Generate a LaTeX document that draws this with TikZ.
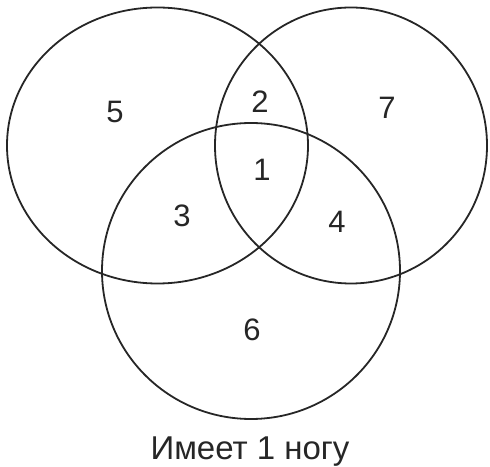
\documentclass[tikz,border=0pt]{standalone}
\usepackage{fontspec}
\setmainfont{Liberation Sans}

\begin{document}
\begin{tikzpicture}[x=1pt,y=1pt,
        ring/.style={line width=1.8pt,draw=black!85},
        reglab/.style={font=\fontsize{31}{31}\selectfont,text=black!85},
        caplab/.style={font=\fontsize{33}{33}\selectfont,text=black!85}]

      \useasboundingbox (0,0) rectangle (490,466);

      \draw[ring] (157.5,320.5) ellipse (150.5 and 138);   % left
      \draw[ring] (351,320.5) ellipse (136 and 138);       % right
      \draw[ring] (251,195) ellipse (149 and 148);         % bottom

      \node[reglab] (r5) at (115,354) {5};
      \node[reglab] (r2) at (260,364) {2};
      \node[reglab] (r7) at (387,358) {7};
      \node[reglab] (r1) at (262,296) {1};
      \node[reglab] (r3) at (182,250) {3};
      \node[reglab] (r4) at (337,244) {4};
      \node[reglab] (r6) at (252,136) {6};

      \node[caplab] (cap) at (250,14) {Имеет 1 ногу};
    \end{tikzpicture}
\end{document}
